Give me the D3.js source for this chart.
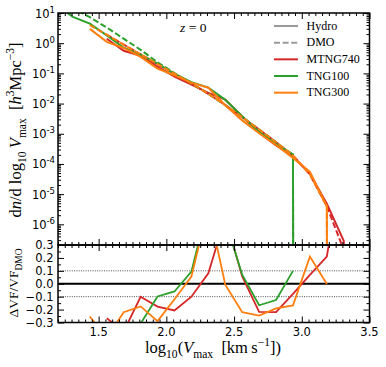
<!DOCTYPE html>
<html>
<head>
<meta charset="utf-8">
<script src="https://cdn.jsdelivr.net/npm/d3@7"></script>
<style>
  body { margin: 0; background: #fff; }
  .tick-label { font-family: "DejaVu Sans", sans-serif; font-size: 11.5px; fill: #000; }
  .tex { font-family: "Liberation Serif", serif; fill: #000; }
</style>
</head>
<body>
<svg id="chart" width="386" height="367"></svg>
<script>
// bin centres, log10(Vmax)
const logVmax = [1.185, 1.31, 1.435, 1.56, 1.685, 1.81, 1.935, 2.06, 2.185, 2.31,
  2.435, 2.56, 2.685, 2.81, 2.935, 3.06, 3.185, 3.31, 3.435];

// dn/dlog10 Vmax [h^3 Mpc^-3], null = no halos in that bin yet
const mtng740Hydro = [null, null, null, 1.40, 0.561, 0.384, 0.168, 0.0775, 0.0421, 0.0226,
  0.0135, 0.00375, 0.00108, 4.10e-4, 1.76e-4, 4.78e-5, 4.82e-6, 2.82e-7, 0];
const mtng740Dmo = [null, null, null, 1.91, 0.891, 0.427, 0.204, 0.0977, 0.0468, 0.0209,
  0.00891, 0.00355, 0.00138, 5.25e-4, 1.91e-4, 4.47e-5, 3.98e-6, 1.41e-7, 0];
const tng100Hydro = [19.1, 7.41, 4.47, 1.82, 0.708, 0.417, 0.211, 0.0959, 0.0512, 0.0339,
  0.0133, 0.0038, 0.00115, 4.59e-4, 2.10e-4, 0, null, null, null];
const tng100Dmo = [31.6, 14.8, 7.24, 3.31, 1.41, 0.603, 0.234, 0.102, 0.0468, 0.0209,
  0.00891, 0.00355, 0.00138, 5.25e-4, 1.91e-4, 0, null, null, null];
const tng300Hydro = [null, null, 2.97, 1.11, 0.695, 0.352, 0.145, 0.0860, 0.0494, 0.0334,
  0.00884, 0.00277, 0.00104, 4.25e-4, 1.59e-4, 5.41e-5, 3.97e-6, 0, null];
const tng300Dmo = [null, null, 3.98, 1.91, 0.891, 0.427, 0.204, 0.0977, 0.0468, 0.0209,
  0.00891, 0.00355, 0.00138, 5.25e-4, 1.91e-4, 4.47e-5, 3.98e-6, 0, null];

const simNames = ["MTNG740", "TNG100", "TNG300"];
const simColors = ["#d62728", "#2ca02c", "#ff7f0e"];

const xTickValues = [1.5, 2.0, 2.5, 3.0, 3.5];
const upperExponents = [1, 0, -1, -2, -3, -4, -5, -6];
const lowerTickValues = [0.3, 0.2, 0.1, 0.0, -0.1, -0.2, -0.3];

const svg = d3.select("#chart");
const pLeft = 58, pRight = 369.5, pTop = 13, pMid = 245, pBottom = 322.5;

const x = d3.scaleLinear().domain([1.2, 3.5]).range([pLeft, pRight]);
const yTop = d3.scaleLog().domain([Math.pow(10, -6.685), 10]).range([pMid, pTop]);
const yBot = d3.scaleLinear().domain([-0.3, 0.3]).range([pBottom, pMid]);

const defs = svg.append("defs");
defs.append("clipPath").attr("id", "clipTop").append("rect")
  .attr("x", pLeft).attr("y", pTop).attr("width", pRight - pLeft).attr("height", pMid - pTop);
defs.append("clipPath").attr("id", "clipBot").append("rect")
  .attr("x", pLeft).attr("y", pMid).attr("width", pRight - pLeft).attr("height", pBottom - pMid);

const sims = [
  { hydro: mtng740Hydro, dmo: mtng740Dmo },
  { hydro: tng100Hydro, dmo: tng100Dmo },
  { hydro: tng300Hydro, dmo: tng300Dmo }
];

// ---- upper panel curves
const upperLine = d3.line()
  .defined(d => d.y != null)
  .x(d => x(d.x))
  .y(d => yTop(Math.max(d.y, 1e-300)));

const upper = svg.append("g").attr("clip-path", "url(#clipTop)");
sims.forEach((s, i) => {
  upper.append("path")
    .attr("d", upperLine(logVmax.map((v, j) => ({ x: v, y: s.hydro[j] }))))
    .attr("fill", "none").attr("stroke", simColors[i]).attr("stroke-width", 2);
  upper.append("path")
    .attr("d", upperLine(logVmax.map((v, j) => ({ x: v, y: s.dmo[j] }))))
    .attr("fill", "none").attr("stroke", simColors[i]).attr("stroke-width", 2)
    .attr("stroke-dasharray", "6,2.6");
});

// ---- lower panel
const lower = svg.append("g").attr("clip-path", "url(#clipBot)");
[0.1, -0.1].forEach(v => {
  lower.append("line")
    .attr("x1", pLeft).attr("x2", pRight).attr("y1", yBot(v)).attr("y2", yBot(v))
    .attr("stroke", "#000").attr("stroke-width", 0.7).attr("stroke-dasharray", "1,1.3");
});
lower.append("line")
  .attr("x1", pLeft).attr("x2", pRight).attr("y1", yBot(0)).attr("y2", yBot(0))
  .attr("stroke", "#000").attr("stroke-width", 2);

const ratioLine = d3.line()
  .defined(d => d.y != null)
  .x(d => x(d.x))
  .y(d => yBot(d.y));

sims.forEach((s, i) => {
  const ratio = logVmax.map((v, j) => {
    const h = s.hydro[j], d = s.dmo[j];
    return { x: v, y: (h > 0 && d > 0) ? h / d - 1 : null };
  });
  lower.append("path")
    .attr("d", ratioLine(ratio))
    .attr("fill", "none").attr("stroke", simColors[i]).attr("stroke-width", 1.8);
});

// ---- ticks (all pointing inward)
function tickAxis(axis, values, size, transform) {
  const g = svg.append("g").attr("transform", transform)
    .call(axis.tickValues(values).tickSize(-size).tickFormat(""));
  g.select(".domain").remove();
  g.selectAll(".tick line").attr("stroke", "#000").attr("stroke-width", 1);
}

const xMinor = x.ticks(46).filter(v => !xTickValues.some(t => Math.abs(t - v) < 1e-6));
const upperMajor = upperExponents.map(e => Math.pow(10, e));
const upperMinor = yTop.ticks().filter(v => Math.abs(Math.log10(v) - Math.round(Math.log10(v))) > 1e-6);
const lowerMinor = yBot.ticks(12).filter(v => !lowerTickValues.some(t => Math.abs(t - v) < 1e-6));

[[pTop, d3.axisTop], [pMid, d3.axisBottom], [pMid, d3.axisTop], [pBottom, d3.axisBottom]].forEach(([yy, ax]) => {
  tickAxis(ax(x), xTickValues, 6, `translate(0,${yy})`);
  tickAxis(ax(x), xMinor, 3, `translate(0,${yy})`);
});
tickAxis(d3.axisLeft(yTop), upperMajor, 6, `translate(${pLeft},0)`);
tickAxis(d3.axisLeft(yTop), upperMinor, 3, `translate(${pLeft},0)`);
tickAxis(d3.axisRight(yTop), upperMajor, 6, `translate(${pRight},0)`);
tickAxis(d3.axisRight(yTop), upperMinor, 3, `translate(${pRight},0)`);
tickAxis(d3.axisLeft(yBot), lowerTickValues, 6, `translate(${pLeft},0)`);
tickAxis(d3.axisLeft(yBot), lowerMinor, 3, `translate(${pLeft},0)`);
tickAxis(d3.axisRight(yBot), lowerTickValues, 6, `translate(${pRight},0)`);
tickAxis(d3.axisRight(yBot), lowerMinor, 3, `translate(${pRight},0)`);

// frames
[[pTop, pMid], [pMid, pBottom]].forEach(([a, b]) => {
  svg.append("rect")
    .attr("x", pLeft).attr("y", a).attr("width", pRight - pLeft).attr("height", b - a)
    .attr("fill", "none").attr("stroke", "#000").attr("stroke-width", 1.5);
});

// ---- tick labels
svg.append("g").selectAll("text").data(xTickValues).join("text")
  .attr("class", "tick-label")
  .attr("x", d => x(d)).attr("y", 336)
  .attr("text-anchor", "middle")
  .text(d => d3.format(".1f")(d));

svg.append("g").selectAll("text").data(lowerTickValues).join("text")
  .attr("class", "tick-label")
  .attr("x", 53.5).attr("y", d => yBot(d) + 4)
  .attr("text-anchor", "end")
  .text(d => d3.format(".1f")(d));

const upLabels = svg.append("g").selectAll("text").data(upperExponents).join("text")
  .attr("class", "tick-label")
  .attr("x", 55).attr("y", d => yTop(Math.pow(10, d)) + 4.5)
  .attr("text-anchor", "end");
upLabels.append("tspan").text("10");
upLabels.append("tspan").attr("dy", -5).style("font-size", "8.5px")
  .text(d => d < 0 ? "-" + (-d) : d);

// ---- rich text helper for the LaTeX-like labels
function richText(sel, parts, size) {
  let offset = 0;
  parts.forEach(p => {
    let target = 0, fs = size;
    if (p.sub) { target = size * 0.3; fs = size * 0.7; }
    if (p.sup) { target = -size * 0.42; fs = size * 0.7; }
    const ts = sel.append("tspan").text(p.t).style("font-size", fs + "px");
    if (target !== offset) ts.attr("dy", target - offset);
    if (p.i) ts.style("font-style", "italic");
    offset = target;
  });
}

const xLabel = svg.append("text").attr("class", "tex")
  .attr("x", 213).attr("y", 353).attr("text-anchor", "middle").style("font-size", "16.5px");
richText(xLabel, [
  { t: "log" }, { t: "10", sub: true }, { t: "(" }, { t: "V", i: true }, { t: "max", sub: true },
  { t: "\u2002[km\u2009s" }, { t: "\u22121", sup: true }, { t: "])" }
], 16.5);

const yLabel = svg.append("text").attr("class", "tex")
  .attr("transform", "translate(21,130) rotate(-90)")
  .attr("text-anchor", "middle").style("font-size", "16.5px");
richText(yLabel, [
  { t: "d" }, { t: "n", i: true }, { t: "/d log" }, { t: "10", sub: true }, { t: "\u2009" },
  { t: "V", i: true }, { t: "max", sub: true }, { t: "\u2002[" }, { t: "h", i: true },
  { t: "3", sup: true }, { t: "Mpc" }, { t: "\u22123", sup: true }, { t: "]" }
], 16.5);

const rLabel = svg.append("text").attr("class", "tex")
  .attr("transform", "translate(18,283) rotate(-90)")
  .attr("text-anchor", "middle").style("font-size", "13.5px");
richText(rLabel, [
  { t: "\u0394VF/VF" }, { t: "DMO", sub: true }
], 13.5);

// z = 0
const zText = svg.append("text").attr("class", "tex")
  .attr("x", 180).attr("y", 32).style("font-size", "13.5px");
zText.append("tspan").style("font-style", "italic").text("z");
zText.append("tspan").text(" = 0");

// ---- legend
const legendItems = [
  { label: "Hydro", color: "#9a9a9a", dash: null },
  { label: "DMO", color: "#9a9a9a", dash: "6,2.6" }
].concat(simNames.map((n, i) => ({ label: n, color: simColors[i], dash: null })));

const legend = svg.append("g");
legendItems.forEach((d, i) => {
  const yy = 26 + i * 16.67;
  legend.append("line")
    .attr("x1", 274).attr("x2", 298).attr("y1", yy).attr("y2", yy)
    .attr("stroke", d.color).attr("stroke-width", 2)
    .attr("stroke-dasharray", d.dash);
  legend.append("text").attr("class", "tex")
    .attr("x", 306.5).attr("y", yy + 3.5).style("font-size", "12px")
    .text(d.label);
});
</script>
</body>
</html>
